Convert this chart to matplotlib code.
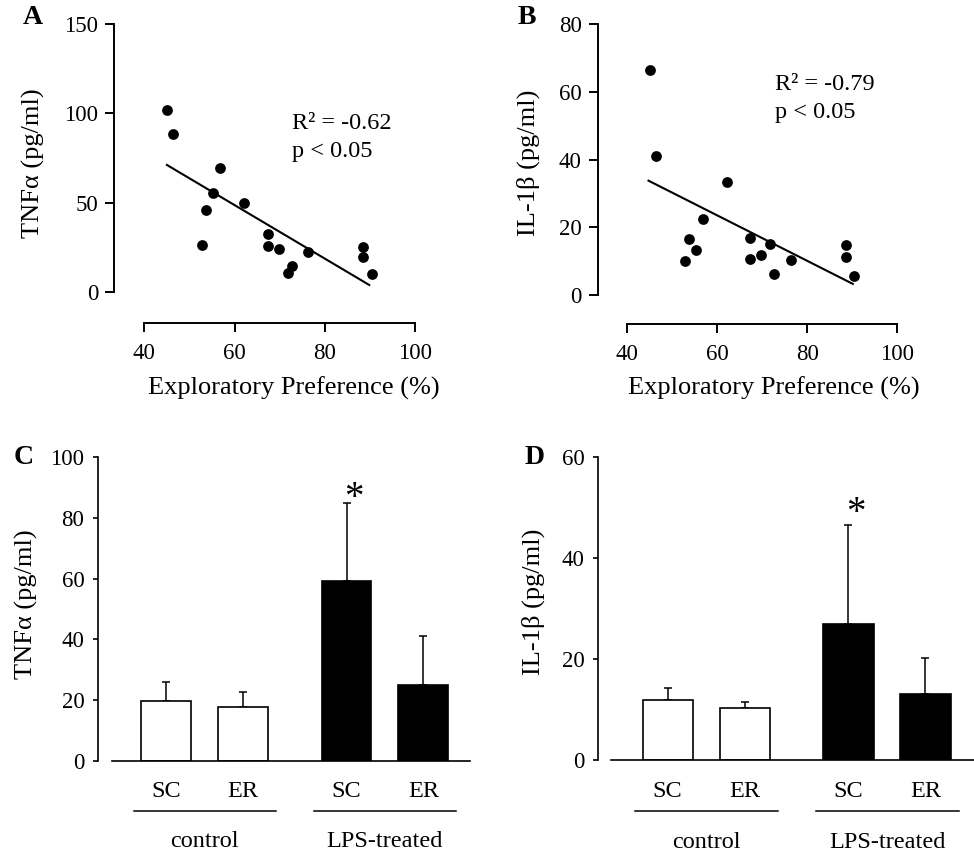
"""
Cytokine levels vs exploratory preference (A, B) and by group (C, D)
"""

import numpy as np
import matplotlib
matplotlib.use("Agg")
import matplotlib.transforms as mtransforms
from matplotlib import pyplot as plt

plt.rcParams['font.family'] = ['Liberation Serif', 'DejaVu Serif']
plt.rcParams['font.size'] = 16

# Exploratory preference (%) for each animal, shared by panels A and B
pref = [45.0, 46.4, 52.7, 53.7, 55.3, 56.8, 62.1, 67.3,
        67.3, 69.8, 71.7, 72.6, 76.3, 88.5, 88.5, 90.3]
tnf = [101.9, 88.5, 26.6, 46.0, 55.7, 69.6, 49.8, 32.6,
       26.0, 24.2, 11.0, 14.9, 22.5, 25.5, 19.6, 10.2]
il1b = [66.5, 41.2, 10.1, 16.5, 13.3, 22.5, 33.5, 16.8,
        10.6, 11.8, 15.0, 6.2, 10.5, 14.8, 11.3, 5.7]

# regression lines (end points)
tnf_fit_x = [45.0, 89.8]
tnf_fit_y = [71.2, 4.1]
il1b_fit_x = [44.7, 90.1]
il1b_fit_y = [33.8, 3.3]

tnf_stats = ["R² = -0.62", "p < 0.05"]
il1b_stats = ["R² = -0.79", "p < 0.05"]

# bar panels
conditions = ["SC", "ER", "SC", "ER"]
groups = ["control", "LPS-treated"]
tnf_mean = [19.7, 17.8, 59.2, 24.8]
tnf_err = [6.1, 5.0, 25.9, 16.3]
il1b_mean = [11.8, 10.2, 26.9, 13.0]
il1b_err = [2.5, 1.3, 19.5, 7.1]
significant = [False, False, True, False]

FS_TICK = 16.5
FS_LABEL = 19
FS_TEXT = 17.5
W, H = 974, 851


def px(n):
    return n * 72 / 100


def _scatter(ax, y, fit_x, fit_y, stats, ylim, yticks, xlim_left, offset,
             stats_pos, ylabel, ylabel_pos, xlabel_pos):

    ax.scatter(pref, y, s=60, color='black', linewidth=0, zorder=3,
               clip_on=False)
    ax.plot(fit_x, fit_y, color='black', linewidth=1.5, zorder=2)

    ax.set_xlim(xlim_left, 100)
    ax.set_ylim(*ylim)
    ax.set_xticks([40, 60, 80, 100])
    ax.set_yticks(yticks)

    for s in ['top', 'right']:
        ax.spines[s].set_visible(False)
    for s in ['left', 'bottom']:
        ax.spines[s].set_linewidth(1.4)
    ax.spines['bottom'].set_position(('outward', px(offset)))
    ax.spines['bottom'].set_bounds(40, 100)
    ax.spines['left'].set_bounds(*ylim)

    ax.tick_params(axis='both', direction='out', length=px(9),
                   width=1.4, labelsize=FS_TICK)
    ax.tick_params(axis='y', pad=5)
    ax.tick_params(axis='x', pad=7.5)

    ax.set_ylabel(ylabel, fontsize=FS_LABEL)
    ax.yaxis.set_label_coords(*ylabel_pos)
    ax.yaxis.label.set_verticalalignment('center')
    ax.set_xlabel("Exploratory Preference (%)", fontsize=FS_LABEL)
    ax.xaxis.set_label_coords(*xlabel_pos)
    ax.xaxis.label.set_verticalalignment('center')

    ax.text(stats_pos[0], stats_pos[1], stats[0], fontsize=FS_TEXT,
            ha='left', va='center')
    ax.text(stats_pos[0], stats_pos[2], stats[1], fontsize=FS_TEXT,
            ha='left', va='center')


def _bars(fig, ax, mean, err, ylim, yticks, xlim, spine_start, ylabel,
          ylabel_pos, label_offsets, star_dy):

    pos = np.arange(len(mean)) + np.repeat([0, 0.35], 2)
    colors = ['white', 'white', 'black', 'black']

    ax.bar(pos, mean, width=0.65, color=colors, edgecolor='black',
           linewidth=1.2, zorder=2)
    ax.errorbar(pos, mean, yerr=[np.zeros(len(err)), err], fmt='none',
                ecolor='black', elinewidth=1.1, capsize=px(4), capthick=1.1,
                zorder=1)

    for p, m, e, sig in zip(pos, mean, err, significant):
        if sig:
            ax.annotate("*", xy=(p, m + e), xytext=(5, star_dy),
                        textcoords='offset points', ha='center',
                        va='bottom', fontsize=28)

    ax.set_xlim(*xlim)
    ax.set_ylim(*ylim)
    ax.set_yticks(yticks)
    ax.set_xticks([])

    for s in ['top', 'right']:
        ax.spines[s].set_visible(False)
    for s in ['left', 'bottom']:
        ax.spines[s].set_linewidth(1.2)
    ax.spines['left'].set_bounds(*ylim)
    ax.spines['bottom'].set_bounds(spine_start, xlim[1])

    ax.tick_params(axis='y', direction='out', length=px(5), width=1.2,
                   labelsize=FS_TICK, pad=px(9))

    ax.set_ylabel(ylabel, fontsize=FS_LABEL)
    ax.yaxis.set_label_coords(*ylabel_pos)
    ax.yaxis.label.set_verticalalignment('center')

    base = ax.get_xaxis_transform()
    cat_off, line_off, grp_off = label_offsets
    t_cat = mtransforms.offset_copy(base, fig=fig, y=cat_off, units='dots')
    t_line = mtransforms.offset_copy(base, fig=fig, y=line_off, units='dots')
    t_grp = mtransforms.offset_copy(base, fig=fig, y=grp_off, units='dots')

    for p, c in zip(pos, conditions):
        ax.text(p, 0, c, transform=t_cat, ha='center', va='center',
                fontsize=FS_TEXT)

    for i, g in enumerate(groups):
        p0, p1 = pos[2 * i], pos[2 * i + 1]
        ax.plot([p0 - 0.42, p1 + 0.43], [0, 0], transform=t_line,
                color='black', linewidth=1.1, clip_on=False)
        ax.text((p0 + p1) / 2, 0, g, transform=t_grp, ha='center',
                va='center', fontsize=FS_TEXT)


def main():

    fig = plt.figure(figsize=(W / 100, H / 100), dpi=100)

    ax_a = fig.add_axes([0.1174, 0.6565, 0.3090, 0.3153])
    ax_b = fig.add_axes([0.6137, 0.6533, 0.3076, 0.3181])
    ax_c = fig.add_axes([0.1009, 0.1061, 0.3816, 0.3565])
    ax_d = fig.add_axes([0.6143, 0.1069, 0.3857, 0.3564])

    _scatter(ax_a, tnf, tnf_fit_x, tnf_fit_y, tnf_stats, (0, 150),
             [0, 50, 100, 150], 33.36, 31, (72.6, 94.5, 78.6),
             "TNFα (pg/ml)", (-0.27, 0.48), (0.597, -0.357))
    _scatter(ax_b, il1b, il1b_fit_x, il1b_fit_y, il1b_stats, (0, 80),
             [0, 20, 40, 60, 80], 33.42, 29.3, (72.8, 62.1, 53.9),
             "IL-1β (pg/ml)", (-0.232, 0.49), (0.588, -0.344))

    _bars(fig, ax_c, tnf_mean, tnf_err, (0, 100), range(0, 101, 20),
          (-0.885, 3.958), -0.710, "TNFα (pg/ml)", (-0.193, 0.517),
          (-31, -50, -81), -10.5)
    _bars(fig, ax_d, il1b_mean, il1b_err, (0, 60), range(0, 61, 20),
          (-0.899, 3.98), -0.738, "IL-1β (pg/ml)", (-0.173, 0.522),
          (-31.5, -50.7, -82), -5)

    for letter, x, y in [("A", 33, 17), ("B", 527, 17),
                         ("C", 24, 458), ("D", 535, 458)]:
        fig.text(x / W, 1 - y / H, letter, fontsize=20, fontweight='bold',
                 ha='center', va='center')

    fig.savefig("out.png", dpi=100)


if __name__ == "__main__":
    main()
